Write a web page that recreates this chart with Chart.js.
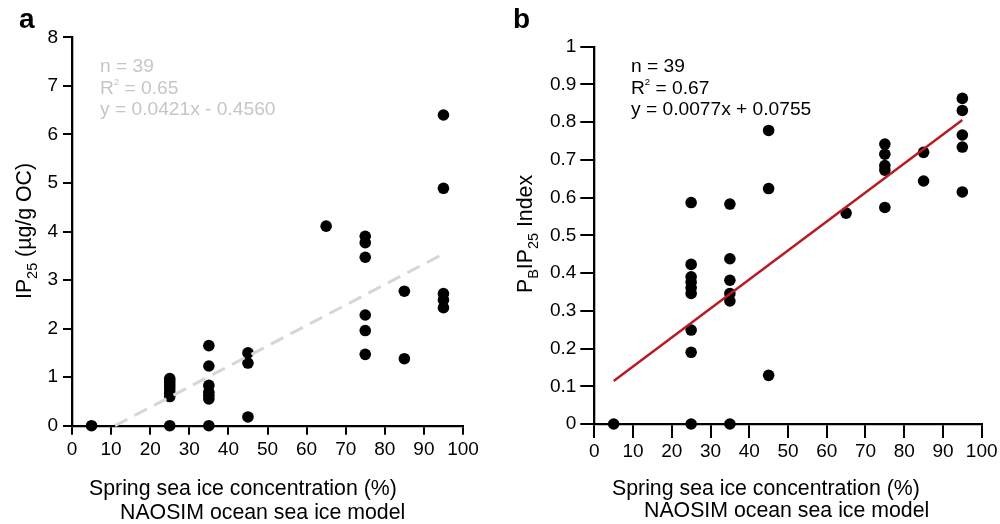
<!DOCTYPE html>
<html><head><meta charset="utf-8">
<script src="https://cdn.jsdelivr.net/npm/chart.js"></script>
<style>
html,body{margin:0;padding:0;background:#fff;overflow:hidden;}
#wrap{position:relative;width:1000px;height:524px;}
canvas{position:absolute;top:0;}
</style></head><body>
<div id="wrap">
<canvas id="ca" width="500" height="524" style="left:0"></canvas>
<canvas id="cb" width="500" height="524" style="left:500px"></canvas>
</div>
<script>
// ---------- data ----------
const xTicks = [0,10,20,30,40,50,60,70,80,90,100];
const aYTicks = [0,1,2,3,4,5,6,7,8];
const bYTicks = [0,0.1,0.2,0.3,0.4,0.5,0.6,0.7,0.8,0.9,1];

// Panel a: IP25 (ug/g OC) vs spring sea ice concentration
const aX = [5, 25,25,25,25,25,25,25,25, 35,35,35,35,35,35,35, 45,45,45, 65, 75,75,75,75,75,75, 85,85, 95,95,95,95,95];
const aY = [0, 0.97,0.92,0.86,0.80,0.74,0.67,0.60,0, 1.65,1.23,0.83,0.69,0.62,0.55,0, 1.50,1.29,0.18, 4.11, 3.90,3.77,3.47,2.28,1.96,1.47, 2.77,1.38, 6.40,4.89,2.72,2.59,2.43];
const aFitX = [11, 95];
const aFitY = [0, 3.54];

// Panel b: PBIP25 index vs spring sea ice concentration
const bX = [5, 25,25,25,25,25,25,25,25,25, 35,35,35,35,35,35, 45,45,45, 65, 75,75,75,75,75, 85,85, 95,95,95,95,95];
const bY = [0, 0.587,0.423,0.390,0.376,0.361,0.346,0.249,0.190,0, 0.583,0.438,0.381,0.346,0.326,0, 0.778,0.624,0.129, 0.559, 0.742,0.715,0.685,0.673,0.574, 0.720,0.644, 0.863,0.831,0.766,0.734,0.615];
const bFitX = [5, 95];
const bFitY = [0.114, 0.806];

// ---------- helpers ----------
const FONT = '"Liberation Sans", Arial, Helvetica, sans-serif';
const pts = (xs, ys) => xs.map((x, i) => ({x: x, y: ys[i]}));

function richWidth(ctx, parts, size) {
  let w = 0;
  for (const [t, m] of parts) {
    const fs = m === 'sub' ? size * 0.68 : (m === 'sup' ? size * 0.5 : size);
    ctx.font = fs + 'px ' + FONT;
    w += ctx.measureText(t).width;
  }
  return w;
}
function drawRich(ctx, parts, x, y, size) {
  let cx = x;
  ctx.textAlign = 'left';
  ctx.textBaseline = 'alphabetic';
  for (const [t, m] of parts) {
    let fs = size, dy = 0;
    if (m === 'sub') { fs = size * 0.68; dy = size * 0.26; }
    if (m === 'sup') { fs = size * 0.5; dy = -size * 0.42; }
    ctx.font = fs + 'px ' + FONT;
    ctx.fillText(t, cx, y + dy);
    cx += ctx.measureText(t).width;
  }
}

function decorPlugin(d) {
  return {
    id: 'decor' + d.letter,
    afterDraw(chart) {
      const ctx = chart.ctx;
      ctx.save();
      // panel letter
      ctx.fillStyle = '#000';
      ctx.font = 'bold 28px ' + FONT;
      ctx.textAlign = 'left';
      ctx.textBaseline = 'alphabetic';
      ctx.fillText(d.letter, d.letterX, 28);
      // annotation
      ctx.fillStyle = d.annColor;
      const ann = [
        [['n = 39', 'n']],
        [['R', 'n'], ['2', 'sup'], [' = ' + d.r2, 'n']],
        [[d.eq, 'n']]
      ];
      const base = [72, 93.5, 115];
      ann.forEach((p, i) => drawRich(ctx, p, d.annX, base[i], 19.2));
      // x title
      ctx.fillStyle = '#000';
      ctx.font = '21.3px ' + FONT;
      ctx.fillText('Spring sea ice concentration (%)', d.xt1X, d.xt1Y);
      ctx.fillText('NAOSIM ocean sea ice model', d.xt2X, d.xt2Y);
      // y title (rotated)
      const w = richWidth(ctx, d.yTitle, 21.3);
      ctx.translate(d.ytX, d.ytY);
      ctx.rotate(-Math.PI / 2);
      drawRich(ctx, d.yTitle, -w / 2, 0, 21.3);
      ctx.restore();
    }
  };
}

function makeChart(id, cfg) {
  const tickFont = {family: FONT, size: cfg.tickSize};
  return new Chart(document.getElementById(id), {
    type: 'scatter',
    data: {
      datasets: [
        {
          data: pts(cfg.fitX, cfg.fitY),
          showLine: true,
          borderColor: cfg.fitColor,
          borderWidth: cfg.fitWidth,
          borderDash: cfg.fitDash,
          pointRadius: 0,
          fill: false,
          clip: false
        },
        {
          data: pts(cfg.xs, cfg.ys),
          pointRadius: 5.8,
          pointHoverRadius: 5.8,
          pointBackgroundColor: '#000',
          pointBorderColor: '#000',
          pointBorderWidth: 0,
          clip: false
        }
      ]
    },
    options: {
      responsive: false,
      animation: false,
      devicePixelRatio: 1,
      events: [],
      layout: {padding: cfg.padding},
      plugins: {legend: {display: false}, tooltip: {enabled: false}},
      scales: {
        x: {
          type: 'linear',
          min: 0, max: 100,
          afterBuildTicks: s => { s.ticks = xTicks.map(v => ({value: v})); },
          afterFit: s => { s.height = cfg.xHeight; },
          border: {display: true, color: '#000', width: 2.3},
          grid: {drawOnChartArea: false, drawTicks: true, tickLength: cfg.tickLen, color: '#000', lineWidth: 2},
          ticks: {color: '#000', font: tickFont, padding: cfg.xPad, maxRotation: 0, autoSkip: false,
                  callback: v => String(v)}
        },
        y: {
          type: 'linear',
          min: cfg.yTicks[0], max: cfg.yTicks[cfg.yTicks.length - 1],
          afterBuildTicks: s => { s.ticks = cfg.yTicks.map(v => ({value: v})); },
          afterFit: s => { s.width = cfg.yWidth; },
          border: {display: true, color: '#000', width: 2.3},
          grid: {drawOnChartArea: false, drawTicks: true, tickLength: cfg.tickLen, color: '#000', lineWidth: 2},
          ticks: {color: '#000', font: tickFont, padding: cfg.yPad, autoSkip: false,
                  callback: v => String(v)}
        }
      }
    },
    plugins: [decorPlugin(cfg.decor)]
  });
}

makeChart('ca', {
  xs: aX, ys: aY, fitX: aFitX, fitY: aFitY,
  fitColor: '#d6d6d6', fitWidth: 3, fitDash: [14, 8],
  yTicks: aYTicks, tickSize: 19, tickLen: 9, xPad: 4, yPad: 5,
  padding: {top: 37.3, right: 37, left: 0, bottom: 0},
  yWidth: 72, xHeight: 98.3,
  decor: {
    letter: 'a', letterX: 19, annColor: '#c6c6c6', annX: 100,
    r2: '0.65', eq: 'y = 0.0421x - 0.4560',
    xt1X: 89, xt1Y: 495, xt2X: 120, xt2Y: 519,
    ytX: 31, ytY: 231,
    yTitle: [['IP', 'n'], ['25', 'sub'], [' (\u00b5g/g OC)', 'n']]
  }
});

makeChart('cb', {
  xs: bX, ys: bY, fitX: bFitX, fitY: bFitY,
  fitColor: '#b71c24', fitWidth: 2.5, fitDash: [],
  yTicks: bYTicks, tickSize: 19, tickLen: 14, xPad: 2, yPad: 4,
  padding: {top: 46.7, right: 18.3, left: 0, bottom: 0},
  yWidth: 94.3, xHeight: 100,
  decor: {
    letter: 'b', letterX: 13, annColor: '#000', annX: 131,
    r2: '0.67', eq: 'y = 0.0077x + 0.0755',
    xt1X: 112, xt1Y: 495, xt2X: 144, xt2Y: 517,
    ytX: 32, ytY: 234,
    yTitle: [['P', 'n'], ['B', 'sub'], ['IP', 'n'], ['25', 'sub'], [' Index', 'n']]
  }
});
</script>
</body></html>
